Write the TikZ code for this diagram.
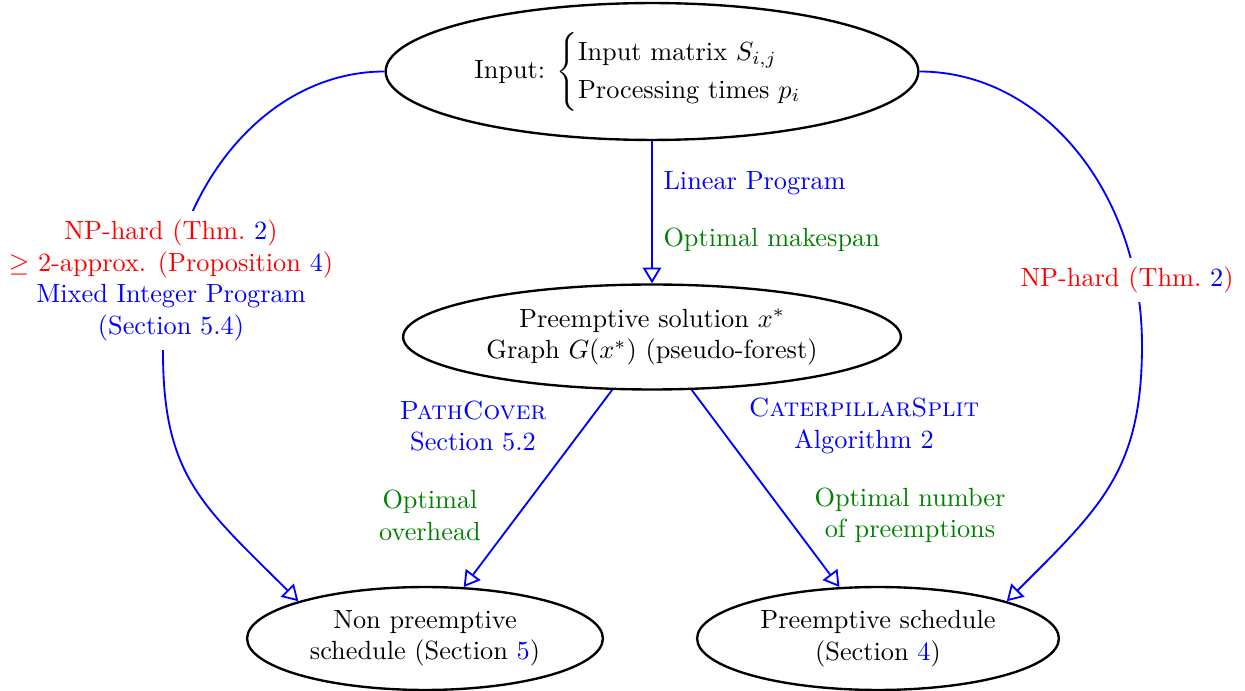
\documentclass[tikz,border=0pt]{standalone}
\usepackage{amsmath}
\usetikzlibrary{shapes.geometric,arrows.meta}
\definecolor{dkgreen}{rgb}{0,0.5,0}
\begin{document}
\begin{tikzpicture}[x=0.01336cm,y=-0.01336cm,
  ell/.style={ellipse,draw,line width=0.9pt,inner sep=0pt,align=center},
  conn/.style={blue,line width=0.7pt,-{Triangle[open,length=6pt,width=7pt]}},
  lab/.style={align=center,inner sep=0pt},
  cover/.style={align=center,fill=white,text=red}]
\useasboundingbox (0,0) rectangle (1245,691);
% nodes
\node[ell,minimum width=7.12cm,minimum height=1.83cm] (input) at (652,71.5)
  {Input: $\begin{cases}\text{Input matrix } S_{i,j}\\ \text{Processing times } p_i\end{cases}$};
\node[ell,minimum width=6.653cm,minimum height=1.403cm] (mid) at (652,337)
  {Preemptive solution $x^*$\\Graph $G(x^*)$ (pseudo-forest)};
\node[ell,minimum width=4.756cm,minimum height=1.376cm] (nonpre) at (425,638.5)
  {Non preemptive\\schedule (Section \textcolor{blue}{5})};
\node[ell,minimum width=4.836cm,minimum height=1.376cm] (pre) at (878,638.5)
  {Preemptive schedule\\(Section \textcolor{blue}{4})};
% coordinates for the side curves
\coordinate (lk) at (163,352);
\coordinate (rk) at (1142,345);
% connectors
\draw[conn] (input) -- (mid);
\draw[conn] (mid) -- (nonpre);
\draw[conn] (mid) -- (pre);
\draw[conn] (input.west) .. controls +(-123,0) and +(0,-155) .. (lk)
  .. controls +(0,125) and +(-95,-95) .. (nonpre.north west);
\draw[conn] (input.east) .. controls +(124,0) and +(0,-151) .. (rk)
  .. controls +(0,125) and +(95,-95) .. (pre.north east);
% labels
\node[lab,blue,anchor=west] (lp) at (663,183) {Linear Program};
\node[lab,dkgreen,anchor=west] (om) at (663,240) {Optimal makespan};
\node[lab,blue] (pc) at (473,426) {\textsc{PathCover}\\Section 5.2};
\node[lab,dkgreen] (oo) at (430,515.5) {Optimal\\overhead};
\node[lab,blue] (cs) at (864,426) {\textsc{CaterpillarSplit}\\Algorithm 2};
\node[lab,dkgreen] (onp) at (910,515.5) {Optimal number\\of preemptions};
\node[cover] (lh) at (171,280.5)
  {NP-hard (Thm.~\textcolor{blue}{2})\\$\geq$ 2-approx. (Proposition~\textcolor{blue}{4})\\\textcolor{blue}{Mixed Integer Program}\\\textcolor{blue}{(Section 5.4)}};
\node[cover] (rh) at (1127,280) {NP-hard (Thm.~\textcolor{blue}{2})};
\end{tikzpicture}
\end{document}
